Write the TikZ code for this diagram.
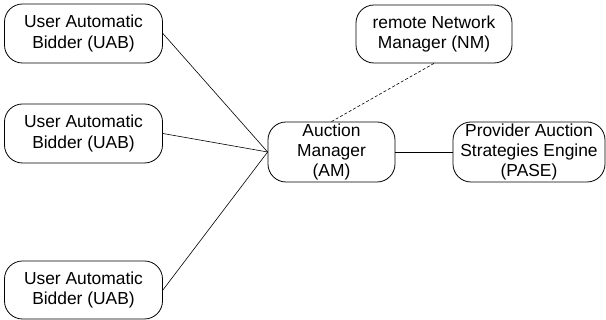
\documentclass[tikz,border=0pt]{standalone}
\usepackage{fontspec}
\setmainfont{Liberation Sans}
\begin{document}
\begin{tikzpicture}[x=1pt,y=1pt,
  box/.style={draw,rounded corners=18pt,line width=0.8pt,inner sep=0pt,align=center,
    font=\fontsize{17.4}{20.5}\selectfont},
  link/.style={line width=0.6pt}]
\useasboundingbox (0,0) rectangle (606,320);
\node[box,minimum width=158,minimum height=59] (u1) at (83.5,286.5) {User Automatic\\Bidder (UAB)};
\node[box,minimum width=158,minimum height=59] (u2) at (83.5,186.5) {User Automatic\\Bidder (UAB)};
\node[box,minimum width=158,minimum height=58] (u3) at (83.5,30) {User Automatic\\Bidder (UAB)};
\node[box,minimum width=156,minimum height=58] (nm) at (434,286) {remote Network\\Manager (NM)};
\node[box,minimum width=127,minimum height=60,text height=0pt] (am) at (331.5,168) {};
\node[align=center,font=\fontsize{17.4}{20}\selectfont,inner sep=0pt] (amt) at (am.center) {Auction\\Manager\\(AM)};
\node[box,minimum width=152,minimum height=60,text height=0pt] (pa) at (529,168) {};
\node[align=center,font=\fontsize{17.4}{20}\selectfont,inner sep=0pt] (pat) at (pa.center) {Provider Auction\\Strategies Engine\\(PASE)};
\draw[link] (u1.east) -- (am.west);
\draw[link] (u2.east) -- (am.west);
\draw[link] (u3.east) -- (am.west);
\draw[link,dashed,dash pattern=on 3pt off 2pt] (nm.south) -- (am.north);
\draw[link] (am.east) -- (pa.west);
\end{tikzpicture}
\end{document}
